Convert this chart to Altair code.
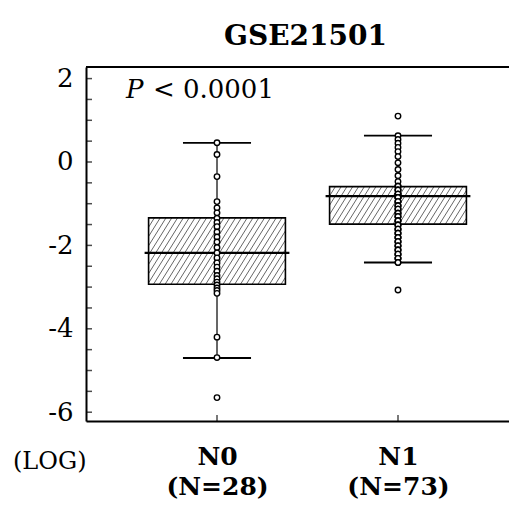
import math
import altair as alt
import pandas as pd

# ---------------- data ----------------
title_text = "GSE21501"
categories = ["N0", "N1"]
counts = [28, 73]

n0_values = [0.46, 0.18, -0.35, -0.95, -1.10, -1.22, -1.35, -1.45, -1.55, -1.68,
             -1.80, -1.92, -2.05, -2.18, -2.30, -2.42, -2.52, -2.62, -2.72, -2.80,
             -2.88, -2.95, -3.02, -3.08, -3.15, -4.20, -4.69, -5.65]
n1_values = [1.10, 0.63, 0.54, 0.45, 0.35, 0.25, 0.13, -0.02, -0.18, -0.33, -0.47,
             -0.58, -0.58, -0.58, -0.67, -0.67, -0.67,
             -0.77, -0.77, -0.77, -0.77, -0.85, -0.85, -0.85, -0.85,
             -0.95, -0.95, -0.95, -1.05, -1.05, -1.05, -1.13, -1.13, -1.13,
             -1.23, -1.23, -1.23, -1.31, -1.31, -1.31, -1.41, -1.41, -1.41,
             -1.51, -1.51, -1.51, -1.61, -1.61, -1.61, -1.71, -1.71, -1.71,
             -1.81, -1.81, -1.81, -1.91, -1.91, -1.91, -2.01, -2.01, -2.01,
             -2.11, -2.11, -2.11, -2.21, -2.21, -2.21, -2.31, -2.31, -2.31,
             -2.41, -2.41, -3.07]

q1 = [-2.93, -1.49]
median = [-2.18, -0.82]
q3 = [-1.34, -0.59]
whisker_lo = [-4.70, -2.41]
whisker_hi = [0.46, 0.63]

y_label_values = [-6, -4, -2, 0, 2]
y_tick_values = [-6.0, -5.5, -5.0, -4.5, -4.0, -3.5, -3.0, -2.5, -2.0, -1.5,
                 -1.0, -0.5, 0.0, 0.5, 1.0, 1.5, 2.0]
p_italic = "P"
p_rest = "< 0.0001"
unit_label = "(LOG)"

# ---------------- layout / style ----------------
W, H = 423, 354
xdom = [-0.7238, 1.6133]
ydom = [-6.211, 2.278]
FONT = "DejaVu Serif"
box_half = 0.378
cap_half = 0.188
med_half = 0.40

xs = alt.Scale(domain=xdom, nice=False, zero=False)
ys = alt.Scale(domain=ydom, nice=False, zero=False)

pos = list(range(len(categories)))

label_expr = " : ".join(
    f"datum.value == {i} ? ['{c}', '(N={n})']" for i, (c, n) in enumerate(zip(categories, counts))
) + " : ''"

XAX = alt.Axis(values=pos, labelExpr=label_expr, grid=False, ticks=False, title=None,
               domain=True, domainColor="black", domainWidth=2,
               labelFont=FONT, labelFontSize=25, labelFontWeight="bold",
               labelColor="black", labelPadding=23, labelLineHeight=30, labelAngle=0)
YAX = alt.Axis(values=y_label_values, labelExpr="toString(datum.value)",
               grid=False, ticks=False, title=None,
               domain=True, domainColor="black", domainWidth=2,
               labelFont=FONT, labelFontSize=26, labelColor="black", labelPadding=13)


def X(f):
    return alt.X(f, scale=xs, axis=XAX)


def Y(f):
    return alt.Y(f, scale=ys, axis=YAX)


pts = pd.DataFrame(
    [{"pos": 0, "v": v} for v in n0_values] + [{"pos": 1, "v": v} for v in n1_values]
)
box = pd.DataFrame({
    "pos": pos, "q1": q1, "med": median, "q3": q3,
    "lo": whisker_lo, "hi": whisker_hi,
    "bx0": [p - box_half for p in pos], "bx1": [p + box_half for p in pos],
    "mx0": [p - med_half for p in pos], "mx1": [p + med_half for p in pos],
})
caps = pd.DataFrame(
    [{"x0": p - cap_half, "x1": p + cap_half, "y": y}
     for p, lo, hi in zip(pos, whisker_lo, whisker_hi) for y in (lo, hi)]
)

# hatch segments inside each box (diagonal "///")
ppx = W / (xdom[1] - xdom[0])
ppy = H / (ydom[1] - ydom[0])
t = math.tan(math.radians(58))
spacing = 5.8
hatch_rows = []
for p, a, b in zip(pos, q1, q3):
    x0 = p - box_half
    wpx = 2 * box_half * ppx
    hpx = (b - a) * ppy
    c = -hpx / t
    while c < wpx:
        vmin = max(0.0, (0 - c) * t)
        vmax = min(hpx, (wpx - c) * t)
        if vmax > vmin:
            hatch_rows.append({
                "x": x0 + (c + vmin / t) / ppx, "y": a + vmin / ppy,
                "x2": x0 + (c + vmax / t) / ppx, "y2": a + vmax / ppy,
            })
        c += spacing
hatch = pd.DataFrame(hatch_rows)

# ---------------- layers ----------------
box_fill = alt.Chart(box).mark_rect(fill="white").encode(
    x=X("bx0:Q"), x2="bx1:Q", y=Y("q1:Q"), y2="q3:Q")

hatch_layer = alt.Chart(hatch).mark_rule(color="#333333", strokeWidth=0.75).encode(
    x=X("x:Q"), x2="x2:Q", y=Y("y:Q"), y2="y2:Q")

box_outline = alt.Chart(box).mark_rect(filled=False, stroke="black", strokeWidth=1.6).encode(
    x=X("bx0:Q"), x2="bx1:Q", y=Y("q1:Q"), y2="q3:Q")

whisker = alt.Chart(box).mark_rule(color="black", strokeWidth=1.2).encode(
    x=X("pos:Q"), y=Y("lo:Q"), y2="hi:Q")

cap_layer = alt.Chart(caps).mark_rule(color="black", strokeWidth=1.8).encode(
    x=X("x0:Q"), x2="x1:Q", y=Y("y:Q"))

med_layer = alt.Chart(box).mark_rule(color="black", strokeWidth=2.2).encode(
    x=X("mx0:Q"), x2="mx1:Q", y=Y("med:Q"))

points = alt.Chart(pts).mark_point(
    shape="circle", filled=True, fill="white", stroke="black",
    strokeWidth=1.4, size=30, opacity=1
).encode(x=X("pos:Q"), y=Y("v:Q"))

ytick_df = pd.DataFrame({"v": y_tick_values})
y_ticks = alt.Chart(ytick_df).mark_tick(
    orient="horizontal", color="black", size=6, thickness=1.5
).encode(y=Y("v:Q"), x=alt.value(3))

xtick_df = pd.DataFrame({"pos": pos})
x_ticks = alt.Chart(xtick_df).mark_tick(
    orient="vertical", color="black", size=6, thickness=1.5
).encode(x=X("pos:Q"), y=alt.value(H - 3))

top_border = alt.Chart(pd.DataFrame({"k": [0]})).mark_rule(
    color="black", strokeWidth=2
).encode(x=alt.value(0), x2=alt.value(W), y=alt.value(0))

ptext_df = pd.DataFrame({"x": [-0.503], "x2": [-0.354], "y": [1.535],
                         "a": [p_italic], "b": [p_rest]})
p1 = alt.Chart(ptext_df).mark_text(
    font=FONT, fontSize=26, fontStyle="italic", align="left", baseline="alphabetic",
    color="black"
).encode(x=X("x:Q"), y=Y("y:Q"), text="a:N")
p2 = alt.Chart(ptext_df).mark_text(
    font=FONT, fontSize=26, align="left", baseline="alphabetic", color="black"
).encode(x=X("x2:Q"), y=Y("y:Q"), text="b:N")

log_text = alt.Chart(pd.DataFrame({"t": [unit_label]})).mark_text(
    font=FONT, fontSize=24, align="left", baseline="alphabetic", color="black"
).encode(x=alt.value(-73), y=alt.value(402), text="t:N")

title_mark = alt.Chart(pd.DataFrame({"t": [title_text]})).mark_text(
    font=FONT, fontSize=28, fontWeight="bold", align="center", baseline="alphabetic",
    color="black"
).encode(x=alt.value(W / 2 + 8), y=alt.value(-22), text="t:N")

chart = alt.layer(
    box_fill, hatch_layer, box_outline, whisker, cap_layer, med_layer, points,
    y_ticks, x_ticks, top_border, p1, p2, log_text, title_mark
).properties(
    width=W, height=H,
    padding={"left": 78, "top": 59, "right": 0, "bottom": 93},
    autosize=alt.AutoSizeParams(type="none"),
).configure_view(stroke=None).configure(background="white")

chart.save("out.html", embed_options={"renderer": "svg", "actions": False})
